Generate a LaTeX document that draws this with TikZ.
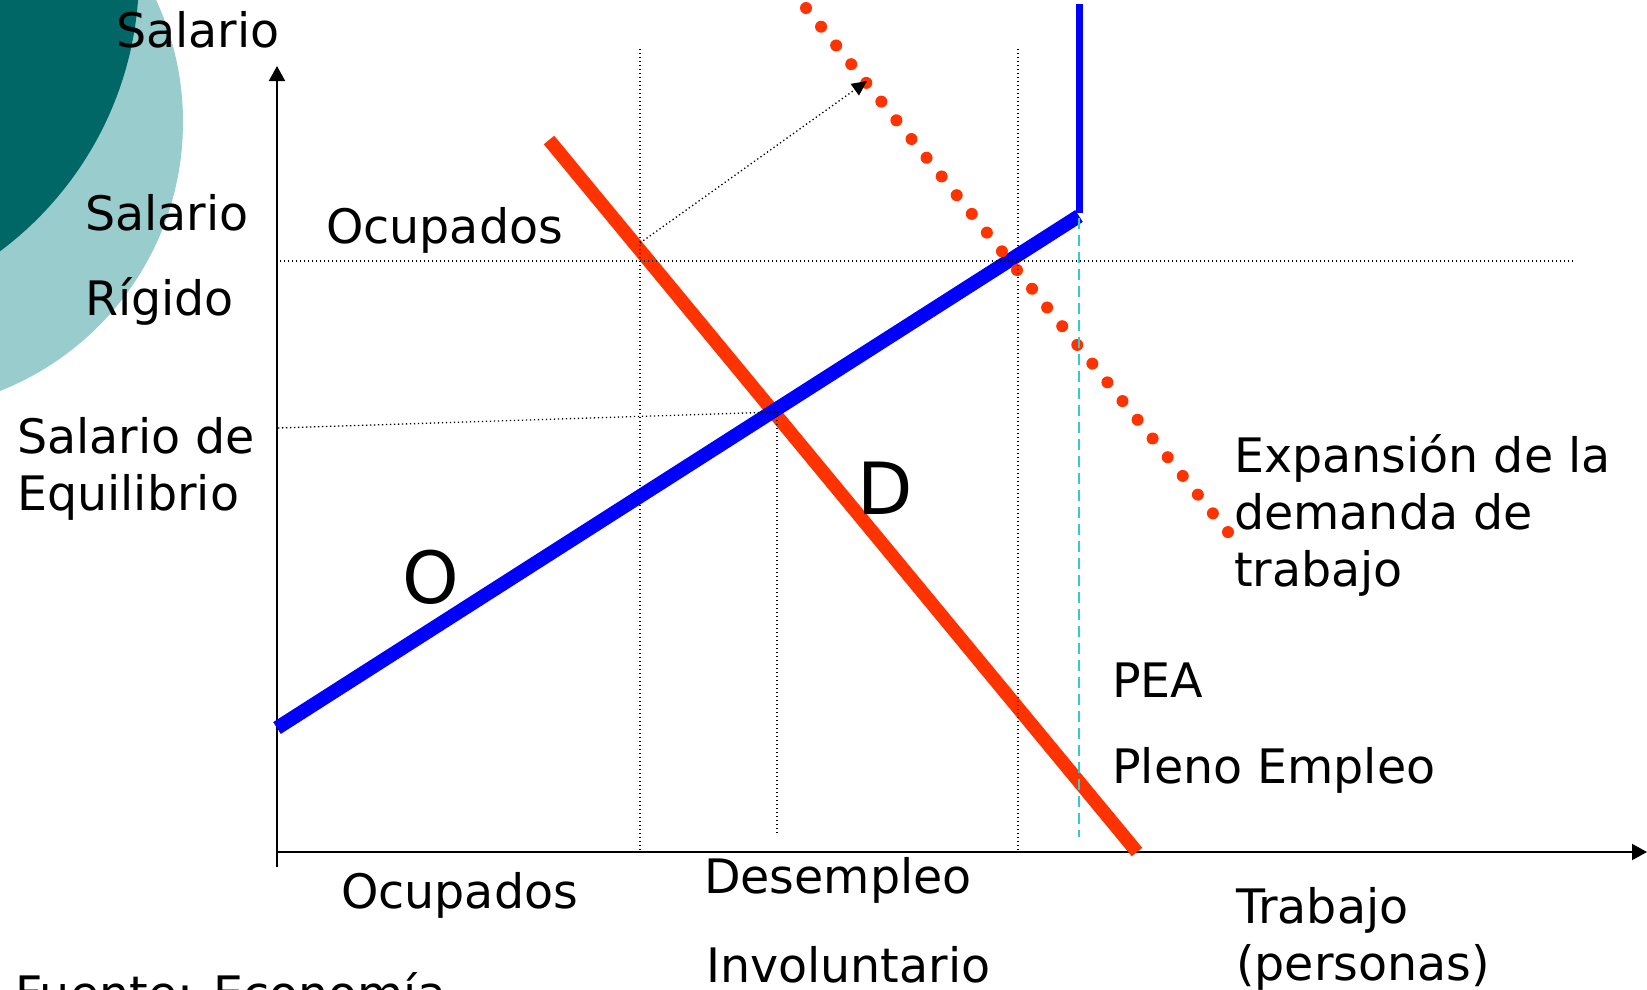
\documentclass[tikz,border=0pt]{standalone}
\usepackage{fontspec}
\setmainfont{DejaVu Sans}
\usetikzlibrary{arrows.meta}
\definecolor{darkteal}{RGB}{0,102,102}
\definecolor{lightteal}{RGB}{153,204,204}
\definecolor{curvered}{RGB}{255,51,0}
\definecolor{curveblue}{RGB}{0,0,255}
\definecolor{peacyan}{RGB}{51,204,204}
\begin{document}
\begin{tikzpicture}[x=1pt,y=-1pt,
  lbl/.style={anchor=base west,inner sep=0pt,font=\fontsize{47.5}{57}\selectfont},
  biglbl/.style={anchor=base west,inner sep=0pt,font=\fontsize{72}{80}\selectfont},
  guide/.style={line width=1.3pt,dash pattern=on 1.3pt off 2.7pt},
  axisline/.style={line width=2pt,-{Triangle[length=15pt,width=16pt]}},
  demand/.style={curvered,line width=13.5pt},
  supply/.style={curveblue,line width=14pt},
  expdots/.style={curvered,line width=12pt,line cap=round,dash pattern=on 0pt off 24.03pt},
  peadash/.style={peacyan,line width=2pt,dash pattern=on 11pt off 6pt}]
\useasboundingbox (0,0) rectangle (1647,989);
\clip (0,0) rectangle (1647,989);
% decorative circles
\fill[lightteal] (-106,122) circle (289pt);
\fill[darkteal] (-207,-26) circle (346pt);
% coordinates
\coordinate (org) at (277,852);
\coordinate (ytop) at (277,66);
\coordinate (ybot) at (277,867);
\coordinate (xend) at (1647,852);
\coordinate (dtop) at (549,140);
\coordinate (dbot) at (1137,852);
\coordinate (sbot) at (277,728);
\coordinate (skink) at (1079,216);
\coordinate (stop) at (1079,4);
\coordinate (etop) at (806,8);
\coordinate (ebot) at (1228.4,532.6);
\coordinate (eq) at (777,412);
\coordinate (eqL) at (278,428);
\coordinate (eqB) at (777,835);
\coordinate (rL) at (280,261);
\coordinate (rR) at (1575,261);
\coordinate (v1t) at (640,49);
\coordinate (v1b) at (640,852);
\coordinate (v2t) at (1018,49);
\coordinate (v2b) at (1018,852);
\coordinate (arS) at (640,243);
\coordinate (arE) at (867,81);
\coordinate (peaT) at (1079,218);
\coordinate (peaB) at (1079,837);
% axes
\draw[axisline] (ybot) -- (ytop);
\draw[axisline] (org) -- (xend);
% curves
\draw[demand] (dtop) -- (dbot);
\draw[supply] (sbot) -- (skink);
\draw[curveblue,line width=7pt] ([yshift=3pt]skink) -- (stop);
\draw[expdots] (etop) -- (ebot);
\draw[peadash] (peaT) -- (peaB);
% guides
\draw[guide] (rL) -- (rR);
\draw[guide] (v1t) -- (v1b);
\draw[guide] (v2t) -- (v2b);
\draw[guide] (eqL) -- (eq);
\draw[guide] (eq) -- (eqB);
\draw[guide,-{Triangle[length=15pt,width=14pt]}] (arS) -- (arE);
% labels
\node[lbl] (tSal) at (116,47) {Salario};
\node[lbl] (tSal2) at (85,230) {Salario};
\node[lbl] (tRig) at (85,315) {Rígido};
\node[lbl] (tOcu1) at (326,243) {Ocupados};
\node[lbl] (tSde) at (17,453) {Salario de};
\node[lbl] (tEqu) at (17,510) {Equilibrio};
\node[biglbl] (tO) at (402,603) {O};
\node[biglbl] (tD) at (857,514) {D};
\node[lbl] (tExp1) at (1234,472) {Expansión de la};
\node[lbl] (tExp2) at (1234,529) {demanda de};
\node[lbl] (tExp3) at (1234,586) {trabajo};
\node[lbl] (tPEA) at (1112,697) {PEA};
\node[lbl] (tPleno) at (1112,783) {Pleno Empleo};
\node[lbl] (tOcu2) at (341,908) {Ocupados};
\node[lbl] (tDes) at (704,893) {Desempleo};
\node[lbl] (tInv) at (706,982) {Involuntario};
\node[lbl] (tTra) at (1236,923) {Trabajo};
\node[lbl] (tPer) at (1236,980) {(personas)};
\node[lbl] (tFue) at (15,1010) {Fuente: Economía};
\end{tikzpicture}
\end{document}
